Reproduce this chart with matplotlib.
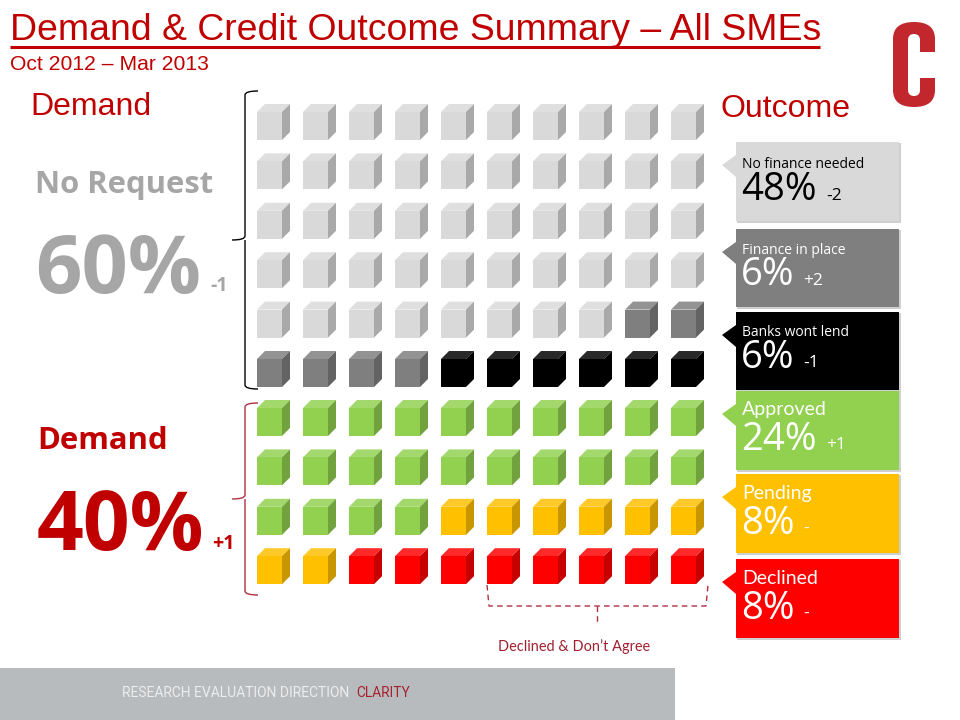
#!/usr/bin/env python3
"""Demand and credit outcome slide, one cube per percent of SMEs."""

import matplotlib
matplotlib.use("Agg")
import matplotlib.pyplot as plt
import numpy as np
from matplotlib.colors import to_rgb
from matplotlib.patches import PathPatch, Polygon, Rectangle
from matplotlib.path import Path

outcome_labels = ["No finance needed", "Finance in place", "Banks wont lend",
                  "Approved", "Pending", "Declined"]
outcome_values = [48, 6, 6, 24, 8, 8]
outcome_deltas = ["-2", "+2", "-1", "+1", "-", "-"]
outcome_colors = ["#D9D9D9", "#7F7F7F", "#000000", "#92D050", "#FFC000", "#FF0000"]
outcome_text = ["black", "white", "white", "white", "white", "white"]

demand_labels = ["No Request", "Demand"]
demand_values = [60, 40]
demand_deltas = ["-1", "+1"]

declined_note = "Declined & Don\u2019t Agree"

RED = "#C00000"
COLS = 10
PITCH_X = 46
PITCH_Y = 49.4
GRID_X = 257
TOP_BLOCK_Y = 104
LOW_BLOCK_Y = 400

box_tops = [142, 229, 312, 391, 474, 559]
box_heights = [79, 78, 78, 79, 79, 79]
label_sizes = [10, 10, 10, 14, 14, 14]
label_offsets = [22, 21, 20, 18, 19, 19]
big_offsets = [48, 46, 46, 49, 50, 50]
delta_offsets = [54, 52, 51, 54, 55, 55]


def shade(color, top):
    rgb = np.array(to_rgb(color))
    if top:
        return tuple(rgb + (1 - rgb) * 0.16)
    return tuple(rgb * 0.78)


def draw_cube(ax, x, y, color):
    """y is the top of the back edge; front face is 25x28, depth 8."""
    w, h, d = 25, 28, 8
    ax.add_patch(Polygon([(x, y + d), (x + d, y), (x + w + d, y), (x + w, y + d)],
                         fc=shade(color, True), ec="none"))
    ax.add_patch(Polygon([(x + w, y + d), (x + w + d, y), (x + w + d, y + h), (x + w, y + h + d)],
                         fc=shade(color, False), ec="none"))
    ax.add_patch(Rectangle((x, y + d), w, h, fc=color, ec="none"))


def draw_cubes(ax):
    colors = np.repeat(outcome_colors, outcome_values)
    n_top = demand_values[0]
    for i, color in enumerate(colors):
        if i < n_top:
            row, col = divmod(i, COLS)
            y = TOP_BLOCK_Y + row * PITCH_Y
        else:
            row, col = divmod(i - n_top, COLS)
            y = LOW_BLOCK_Y + row * PITCH_Y
        draw_cube(ax, GRID_X + col * PITCH_X, y, color)


def draw_brace(ax, y0, y1, color):
    mid = (y0 + y1) / 2
    xr, xm, xl, c = 258, 245, 232, 4
    verts = [(xr, y0), (xm, y0), (xm, y0 + c), (xm, mid - c), (xm, mid), (xl, mid),
             (xm, mid), (xm, mid + c), (xm, y1 - c), (xm, y1), (xr, y1)]
    codes = [Path.MOVETO, Path.CURVE3, Path.CURVE3, Path.LINETO, Path.CURVE3, Path.LINETO,
             Path.MOVETO, Path.LINETO, Path.LINETO, Path.CURVE3, Path.CURVE3]
    ax.add_patch(PathPatch(Path(verts, codes), fc="none", ec=color, lw=1.0))


def draw_callouts(ax):
    for i, label in enumerate(outcome_labels):
        x, w = 736, 163
        y, h = box_tops[i], box_heights[i]
        color = outcome_colors[i]
        tc = outcome_text[i]
        ax.add_patch(Rectangle((x + 1, y + 1), w + 1, h + 1, fc="#BBBBBB", ec="none", alpha=0.7))
        ax.add_patch(Polygon([(x, y + 13), (722, y + 23), (x, y + 35)], fc=color, ec="none"))
        ax.add_patch(Rectangle((x, y), w, h, fc=color, ec="none"))
        big = "%d%%" % outcome_values[i]
        ax.text(742, y + label_offsets[i], label, color=tc, fontsize=label_sizes[i],
                family="Open Sans" if i < 3 else "Lato", va="center", ha="left")
        ax.text(741, y + big_offsets[i], big, color=tc, fontsize=27.5, family="Open Sans",
                va="center", ha="left")
        dx = 826 if outcome_values[i] >= 10 else 803
        ax.text(dx, y + delta_offsets[i], outcome_deltas[i], color=tc, fontsize=12.5, family="Open Sans",
                va="center", ha="left")


def draw_logo(ax):
    L, C, CP = Path.LINETO, Path.CURVE3, Path.CLOSEPOLY
    verts = [(935, 52), (920, 52), (920, 40), (920, 34), (914, 34), (908, 34), (908, 40),
             (908, 90), (908, 96), (914, 96), (920, 96), (920, 90), (920, 78), (935, 78),
             (935, 90), (935, 107), (914, 107), (893, 107), (893, 90), (893, 39),
             (893, 22), (914, 22), (935, 22), (935, 39), (935, 52)]
    codes = [Path.MOVETO, L, L, C, C, C, C,
             L, C, C, C, C, L, L,
             L, C, C, C, C, L,
             C, C, C, C, CP]
    ax.add_patch(PathPatch(Path(verts, codes), fc="#C1272D", ec="none"))


def main():
    fig = plt.figure(figsize=(9.6, 7.2), dpi=100)
    ax = fig.add_axes([0, 0, 1, 1])
    ax.set_xlim(0, 960)
    ax.set_ylim(720, 0)
    ax.axis("off")

    ax.text(10, 40, "Demand & Credit Outcome Summary \u2013 All SMEs", color=RED, fontsize=26.9,
            family="Liberation Sans", va="baseline")
    ax.plot([10, 820], [46.5, 46.5], color=RED, lw=2.2, solid_capstyle="butt")
    ax.text(10, 70.5, "Oct 2012 \u2013 Mar 2013", color=RED, fontsize=15.2, family="Liberation Sans", va="baseline")
    ax.text(30, 115, "Demand", color=RED, fontsize=23, family="Liberation Sans", va="baseline")
    ax.text(721, 117, "Outcome", color=RED, fontsize=23, family="Liberation Sans", va="baseline")

    ax.text(35, 192.5, demand_labels[0], color="#A6A6A6", fontsize=22.3, weight="bold", family="Open Sans", va="baseline")
    ax.text(35, 293, "%d%%" % demand_values[0], color="#A6A6A6", fontsize=58.5, weight="bold", family="Open Sans", va="baseline")
    ax.text(210, 291, demand_deltas[0], color="#A6A6A6", fontsize=14, weight="bold", family="Open Sans", va="baseline")

    ax.text(37, 449, demand_labels[1], color=RED, fontsize=22.4, weight="bold", family="Open Sans", va="baseline")
    ax.text(37, 550, "%d%%" % demand_values[1], color=RED, fontsize=59, weight="bold", family="Open Sans", va="baseline")
    ax.text(212, 549, demand_deltas[1], color=RED, fontsize=14, weight="bold", family="Open Sans", va="baseline")

    draw_brace(ax, 91, 389, "black")
    draw_brace(ax, 403, 595, "#B03040")
    draw_cubes(ax)
    draw_callouts(ax)

    # dashed bracket under the last declined cubes
    ax.plot([487, 489, 706, 708], [585, 606, 606, 585], color="#B03040", lw=1, ls=(0, (4, 3)))
    ax.plot([597, 597], [606, 625], color="#B03040", lw=1, ls=(0, (4, 3)))
    ax.text(574.5, 647, declined_note, color="#A02030", fontsize=10.45, family="Lato", ha="center", va="center")

    ax.add_patch(Rectangle((0, 668), 675, 52, fc="#B8BBBE", ec="none"))
    ax.text(122, 693, "RESEARCH EVALUATION DIRECTION", color="#EDEDED", fontsize=10,
            family="Roboto", va="center")
    ax.text(356, 693, "CLARITY", color="#A5222C", fontsize=9.9, family="Roboto", va="center")

    draw_logo(ax)
    fig.savefig("out.png", dpi=100)


if __name__ == "__main__":
    main()
